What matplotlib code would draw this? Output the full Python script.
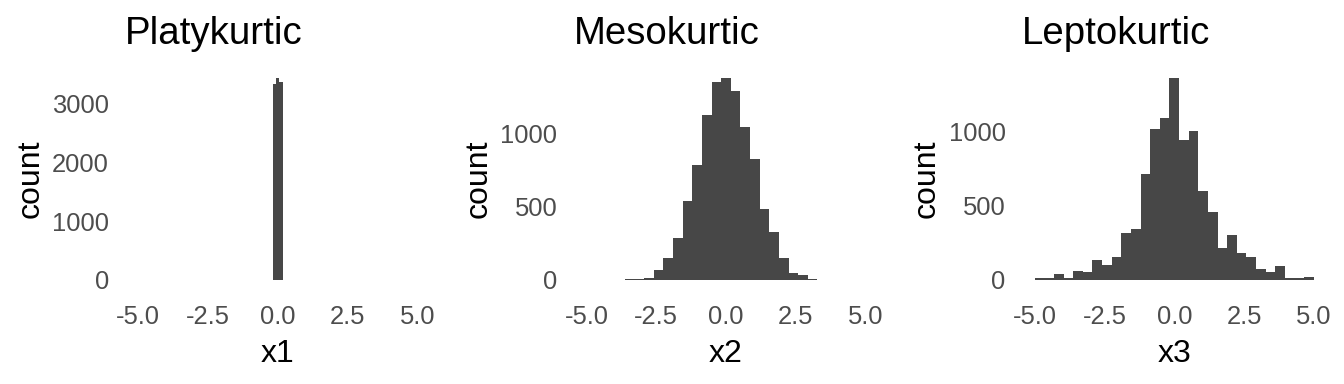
import matplotlib
matplotlib.use("Agg")
import matplotlib.pyplot as plt
import numpy as np

plt.rcParams['font.family'] = ['Liberation Sans', 'DejaVu Sans']

# ---- data ----
titles = ["Platykurtic", "Mesokurtic", "Leptokurtic"]
xlabels = ["x1", "x2", "x3"]

x1_edges = [-0.172, -0.057, 0.057, 0.172]
x1_counts = [3328, 3430, 3362]

x2_edges = [-3.966, -3.621, -3.276, -2.931, -2.586, -2.241, -1.897, -1.552,
            -1.207, -0.862, -0.517, -0.172, 0.172, 0.517, 0.862, 1.207,
            1.552, 1.897, 2.241, 2.586, 2.931, 3.276, 3.621, 3.966]
x2_counts = [2, 3, 7, 16, 68, 150, 285, 541, 788, 1130, 1356, 1381,
             1295, 1048, 829, 486, 329, 150, 50, 34, 7, 2, 2]

x3_edges = [-5.000, -4.655, -4.310, -3.966, -3.621, -3.276, -2.931, -2.586,
            -2.241, -1.897, -1.552, -1.207, -0.862, -0.517, -0.172, 0.172,
            0.517, 0.862, 1.207, 1.552, 1.897, 2.241, 2.586, 2.931, 3.276,
            3.621, 3.966, 4.310, 4.655, 5.000]
x3_counts = [11, 11, 40, 11, 61, 54, 135, 101, 155, 317, 344, 715, 1018,
             1097, 1364, 944, 1007, 600, 458, 216, 303, 184, 155, 74, 54,
             94, 11, 11, 22]

yticks = [[0, 1000, 2000, 3000], [0, 500, 1000], [0, 500, 1000]]
xticks = [-5.0, -2.5, 0.0, 2.5, 5.0]
xticklabels = ["-5.0", "-2.5", "0.0", "2.5", "5.0"]

series = [(x1_edges, x1_counts), (x2_edges, x2_counts), (x3_edges, x3_counts)]

# ---- layout ----
W, H = 1344, 384
fig = plt.figure(figsize=(W / 100, H / 100), dpi=100)
fig.patch.set_facecolor("white")

panel_left = [124.3, 572.5, 1020.8]
panel_w = 307.0
top_px, bot_px = 68.0, 290.0

bar_color = "#474747"
tick_color = "#4D4D4D"

for i, (edges, counts) in enumerate(series):
    l = panel_left[i]
    ax = fig.add_axes([l / W, 1 - bot_px / H, panel_w / W, (bot_px - top_px) / H])
    ax.hist(np.array(edges[:-1]), bins=edges, weights=counts,
            color=bar_color, edgecolor="none", linewidth=0)
    ymax = max(counts)
    ax.set_xlim(-5.5, 5.5)
    ax.set_ylim(-0.05 * ymax, 1.05 * ymax)
    ax.set_xticks(xticks)
    ax.set_xticklabels(xticklabels)
    ax.set_yticks(yticks[i])
    ax.set_yticklabels([str(v) for v in yticks[i]])
    for s in ax.spines.values():
        s.set_visible(False)
    ax.tick_params(axis="both", length=0, labelsize=18.4, labelcolor=tick_color)
    ax.tick_params(axis="x", pad=10.5)
    ax.tick_params(axis="y", pad=11)
    ax.grid(False)

    ax.set_xlabel(xlabels[i], fontsize=23, color="black")
    ax.xaxis.label.set_va("baseline")
    ax.xaxis.set_label_coords(0.5, -(362 - bot_px) / (bot_px - top_px))

    ax.set_ylabel("count", fontsize=23, color="black")
    ax.yaxis.label.set_va("baseline")
    ax.yaxis.set_label_coords(-86.0 / panel_w, 0.5)

    fig.text((l + 1) / W, 1 - 44.3 / H, titles[i], fontsize=27.6,
             ha="left", va="baseline", color="black")

fig.savefig("out.png", dpi=100, facecolor="white")
